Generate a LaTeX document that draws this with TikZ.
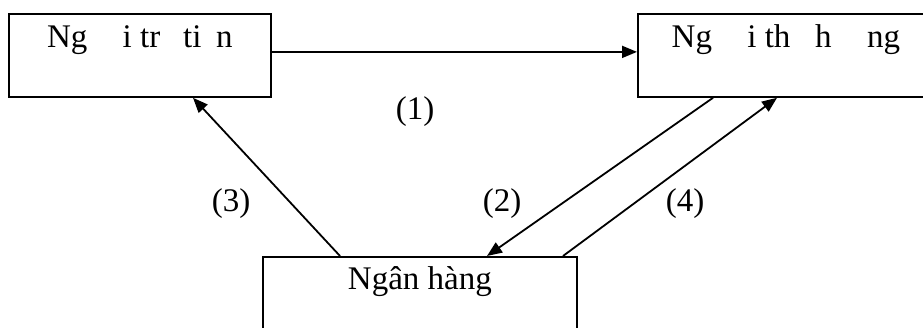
\documentclass[tikz,border=0pt]{standalone}
\usepackage{fontspec}
\setmainfont{Liberation Serif}
\usetikzlibrary{arrows.meta}

\begin{document}
\begin{tikzpicture}[
  x=1pt, y=-1pt,
  font=\fontsize{33}{40}\selectfont,
  party/.style={draw=black, line width=1.8pt, anchor=north west, inner xsep=0pt,
                inner ysep=12pt, text height=22pt, text depth=37pt, align=center},
  flow/.style={-{Triangle[length=15pt,width=12pt]}, draw=black, line width=1.8pt},
  num/.style={inner sep=0pt},
]
\useasboundingbox (0,0) rectangle (923,328);
\clip (0,0) rectangle (923,328);

% ---- the three parties ----
\node[party, minimum width=262pt] (payer) at (8,13)
  {Ng\phantom{ườ}i tr\phantom{ả} ti\phantom{ề}n};
\node[party, minimum width=296pt] (payee) at (637,13)
  {Ng\phantom{ườ}i th\phantom{ụ} h\phantom{ưở}ng};
\node[party, minimum width=314pt, inner ysep=9pt, text height=24pt,
      text depth=60pt] (bank) at (262,256) {Ngân hàng};

% ---- flows ----
\draw[flow] ([yshift=3.5pt]payer.east) -- ([yshift=3.5pt]payee.west);
\draw[flow] ([xshift=76pt]payee.south west) -- ([xshift=225pt]bank.north west);
\draw[flow] ([xshift=78pt]bank.north west) -- ([xshift=185pt]payer.south west);
\draw[flow] ([xshift=301pt]bank.north west) -- ([xshift=140pt]payee.south west);

\node[num] (n1) at (415,112) {(1)};
\node[num] (n2) at (502,204) {(2)};
\node[num] (n3) at (231,204) {(3)};
\node[num] (n4) at (685,204) {(4)};
\end{tikzpicture}
\end{document}
